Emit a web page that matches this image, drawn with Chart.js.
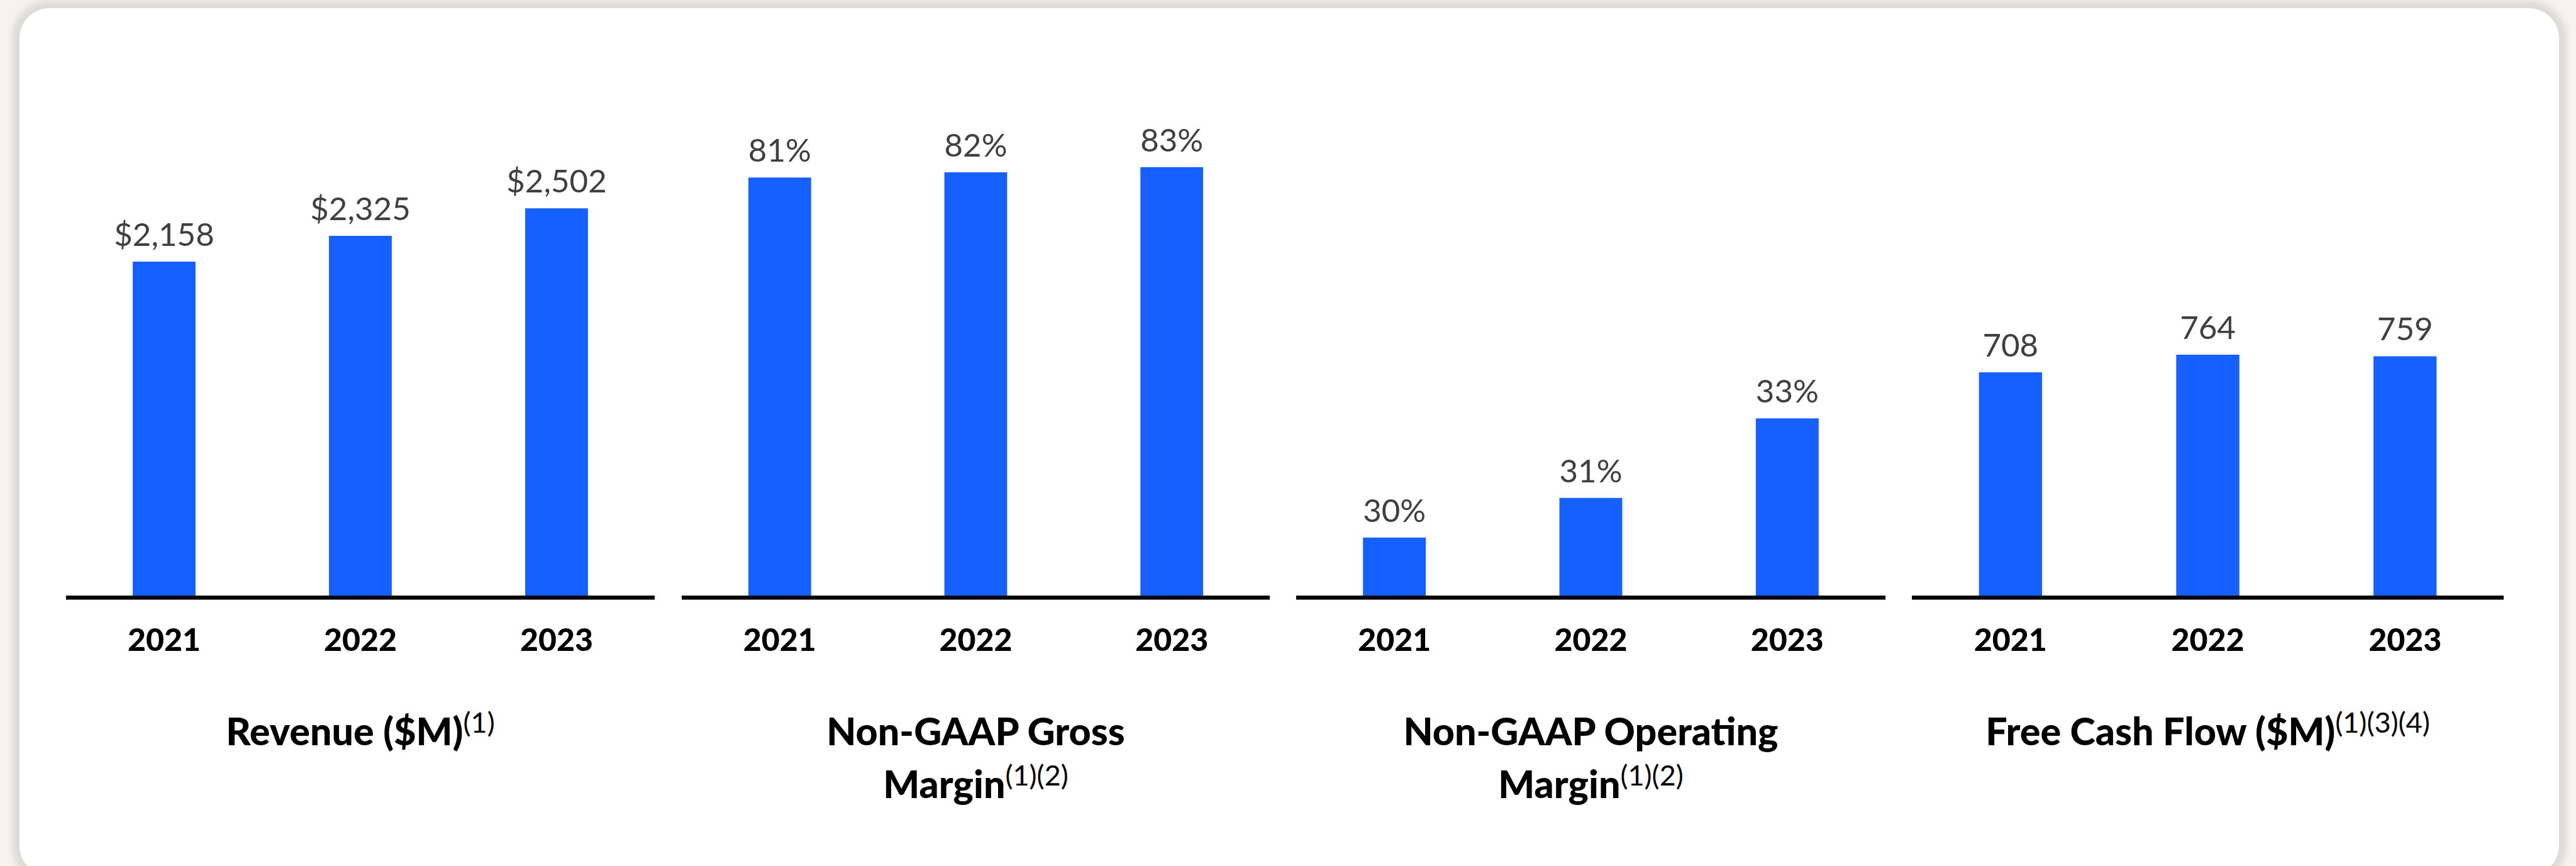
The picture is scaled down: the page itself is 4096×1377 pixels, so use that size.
<!DOCTYPE html>
<html>
<head>
<meta charset="utf-8">
<title>Financial Highlights</title>
<script src="https://cdn.jsdelivr.net/npm/chart.js@4.4.1/dist/chart.umd.min.js"></script>
<style>
    html, body {
        margin: 0;
        padding: 0;
    }

    body {
        position: relative;
        width: 4096px;
        height: 1377px;
        overflow: hidden;
        background: #f4f3ef;
        font-family: Lato, 'Open Sans', sans-serif;
    }

    .card {
        position: absolute;
        left: 31px;
        top: 13px;
        width: 4038px;
        height: 1380px;
        background: #ffffff;
        border-radius: 48px;
        box-shadow: 0 0 10px 12px #dddcd7;
    }

    .panel-chart {
        position: absolute;
        top: 150px;
    }

    .panel-title {
        position: absolute;
        top: 1120px;
        color: #000000;
        font-size: 61px;
        font-weight: 900;
        line-height: 83.5px;
        text-align: center;
        white-space: nowrap;
    }

    .panel-title sup {
        position: relative;
        top: -20px;
        font-size: 45px;
        font-weight: 400;
        vertical-align: baseline;
    }
</style>
</head>
<body>
<div class="card"></div>

<canvas id="revenueChart" class="panel-chart"></canvas>
<canvas id="grossMarginChart" class="panel-chart"></canvas>
<canvas id="operatingMarginChart" class="panel-chart"></canvas>
<canvas id="cashFlowChart" class="panel-chart"></canvas>

<div class="panel-title" id="revenueTitle">Revenue ($M)<sup>(1)</sup></div>
<div class="panel-title" id="grossMarginTitle">Non-GAAP Gross<br>Margin<sup>(1)(2)</sup></div>
<div class="panel-title" id="operatingMarginTitle">Non-GAAP Operating<br>Margin<sup>(1)(2)</sup></div>
<div class="panel-title" id="cashFlowTitle">Free Cash Flow ($M)<sup>(1)(3)(4)</sup></div>

<script>
// Fiscal years shown under every panel
const years = ['2021', '2022', '2023'];

// Series values
const revenue = [2158, 2325, 2502];
const grossMargin = [81, 82, 83];
const operatingMargin = [30, 31, 33];
const freeCashFlow = [708, 764, 759];

const BAR_COLOR = '#1660ff';
const LABEL_COLOR = '#404040';
const PLOT_HEIGHT = 797;
const AXIS_HEIGHT = 120;

// Panel boxes along the card
const panels = [
    { id: 'revenueChart', title: 'revenueTitle', left: 105, width: 936 },
    { id: 'grossMarginChart', title: 'grossMarginTitle', left: 1084, width: 935 },
    { id: 'operatingMarginChart', title: 'operatingMarginTitle', left: 2061, width: 937 },
    { id: 'cashFlowChart', title: 'cashFlowTitle', left: 3040, width: 941 }
];

document.addEventListener('DOMContentLoaded', function() {
    Promise.all([
        document.fonts.load('900 50px Lato'),
        document.fonts.load('400 51px Lato')
    ]).catch(() => null).then(initializeCharts);
});

function initializeCharts() {
    createPanel(panels[0], revenue, { min: 0, max: 3239 },
        v => '$' + v.toLocaleString('en-US'));
    createPanel(panels[1], grossMargin, { min: 0, max: 97.1 },
        v => v + '%');
    createPanel(panels[2], operatingMargin, { min: 28.54, max: 41.16 },
        v => v + '%');
    createPanel(panels[3], freeCashFlow, { min: 0, max: 1589.6 },
        v => String(v));
}

// Value printed above each bar
const valueLabels = {
    id: 'valueLabels',
    afterDatasetsDraw(chart, args, opts) {
        const ctx = chart.ctx;
        const meta = chart.getDatasetMeta(0);
        const values = chart.data.datasets[0].data;
        ctx.save();
        ctx.fillStyle = LABEL_COLOR;
        ctx.font = '400 51px Lato';
        ctx.textAlign = 'center';
        ctx.textBaseline = 'alphabetic';
        meta.data.forEach((bar, i) => {
            ctx.fillText(opts.format(values[i]), bar.x, bar.y - 25);
        });
        ctx.restore();
    }
};

// Heavy black baseline running under the bars
const baseline = {
    id: 'baseline',
    afterDatasetsDraw(chart) {
        const { ctx, chartArea } = chart;
        ctx.save();
        ctx.fillStyle = '#000000';
        ctx.fillRect(chartArea.left, chartArea.bottom, chartArea.right - chartArea.left, 6.5);
        ctx.restore();
    }
};

function createPanel(panel, values, range, format) {
    const canvas = document.getElementById(panel.id);
    canvas.width = panel.width;
    canvas.height = PLOT_HEIGHT + AXIS_HEIGHT;
    canvas.style.left = panel.left + 'px';

    const title = document.getElementById(panel.title);
    title.style.left = panel.left + 'px';
    title.style.width = panel.width + 'px';

    new Chart(canvas.getContext('2d'), {
        type: 'bar',
        data: {
            labels: years,
            datasets: [{
                data: values,
                backgroundColor: BAR_COLOR,
                borderWidth: 0,
                barPercentage: 0.32,
                categoryPercentage: 1
            }]
        },
        options: {
            responsive: false,
            animation: false,
            layout: { padding: 0 },
            plugins: {
                legend: { display: false },
                tooltip: { enabled: false },
                valueLabels: { format: format }
            },
            scales: {
                x: {
                    grid: { display: false, drawTicks: false },
                    border: { display: false },
                    ticks: {
                        color: '#000000',
                        padding: 42,
                        font: { family: 'Lato', weight: '900', size: 50 }
                    },
                    afterFit: function(scale) {
                        scale.height = AXIS_HEIGHT;
                    }
                },
                y: {
                    display: false,
                    min: range.min,
                    max: range.max
                }
            }
        },
        plugins: [valueLabels, baseline]
    });
}
</script>
</body>
</html>
